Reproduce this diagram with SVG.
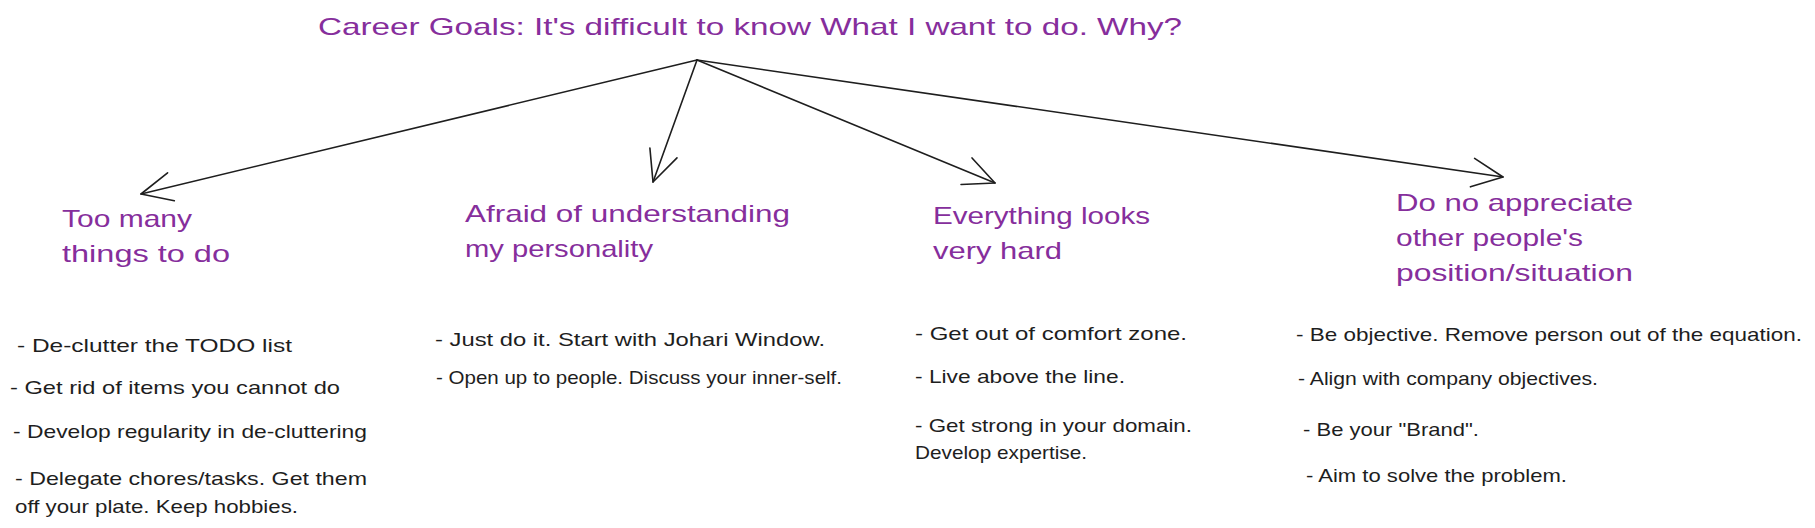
<svg xmlns="http://www.w3.org/2000/svg" width="1815" height="528" viewBox="0 0 1815 528">
  <style>
    .title { font-family: "Liberation Sans", Arial, sans-serif; font-size: 24px; fill: #862e9c; }
    .node { font-family: "Liberation Sans", Arial, sans-serif; font-size: 24px; fill: #862e9c; }
    .body { font-family: "Liberation Sans", Arial, sans-serif; font-size: 19px; fill: #1e1e1e; }
    .conn { fill: none; stroke: #1e1e1e; stroke-width: 1.6; stroke-linecap: round; marker-end: url(#ah); }
  </style>
  <defs>
    <marker id="ah" markerUnits="userSpaceOnUse" markerWidth="40" markerHeight="40" viewBox="-35 -20 40 40" refX="0" refY="0" orient="auto" overflow="visible">
      <path d="M -30.8,-14.4 L 0,0 L -30.8,14.4" fill="none" stroke="#1e1e1e" stroke-width="1.6" stroke-linecap="round" stroke-linejoin="round"/>
    </marker>
  </defs>
  <rect width="1815" height="528" fill="#ffffff"/>

  <g id="title">
    <text class="title" x="318" y="35" textLength="864" lengthAdjust="spacingAndGlyphs">Career Goals: It's difficult to know What I want to do. Why?</text>
  </g>

  <g id="connectors">
    <line class="conn" x1="697" y1="60" x2="141" y2="194"/>
    <line class="conn" x1="697" y1="60" x2="653" y2="182"/>
    <line class="conn" x1="697" y1="60" x2="995" y2="183"/>
    <line class="conn" x1="697" y1="60" x2="1503" y2="177"/>
  </g>

  <g id="node-too-many">
    <text class="node" x="62" y="227" textLength="130" lengthAdjust="spacingAndGlyphs">Too many</text>
    <text class="node" x="62" y="262" textLength="168" lengthAdjust="spacingAndGlyphs">things to do</text>
  </g>
  <g id="node-afraid">
    <text class="node" x="465" y="222" textLength="325" lengthAdjust="spacingAndGlyphs">Afraid of understanding</text>
    <text class="node" x="465" y="257" textLength="188" lengthAdjust="spacingAndGlyphs">my personality</text>
  </g>
  <g id="node-everything">
    <text class="node" x="933" y="224" textLength="217" lengthAdjust="spacingAndGlyphs">Everything looks</text>
    <text class="node" x="933" y="259" textLength="129" lengthAdjust="spacingAndGlyphs">very hard</text>
  </g>
  <g id="node-appreciate">
    <text class="node" x="1396" y="211" textLength="237" lengthAdjust="spacingAndGlyphs">Do no appreciate</text>
    <text class="node" x="1396" y="246" textLength="187" lengthAdjust="spacingAndGlyphs">other people's</text>
    <text class="node" x="1396" y="281" textLength="237" lengthAdjust="spacingAndGlyphs">position/situation</text>
  </g>

  <g id="notes-too-many">
    <text class="body" x="17" y="352" textLength="275" lengthAdjust="spacingAndGlyphs">- De-clutter the TODO list</text>
    <text class="body" x="10" y="394" textLength="330" lengthAdjust="spacingAndGlyphs">- Get rid of items you cannot do</text>
    <text class="body" x="13" y="438" textLength="354" lengthAdjust="spacingAndGlyphs">- Develop regularity in de-cluttering</text>
    <text class="body" x="15" y="485" textLength="352" lengthAdjust="spacingAndGlyphs">- Delegate chores/tasks. Get them</text>
    <text class="body" x="15" y="513" textLength="283" lengthAdjust="spacingAndGlyphs">off your plate. Keep hobbies.</text>
  </g>
  <g id="notes-afraid">
    <text class="body" x="435" y="346" textLength="390" lengthAdjust="spacingAndGlyphs">- Just do it. Start with Johari Window.</text>
    <text class="body" x="436" y="384" textLength="406" lengthAdjust="spacingAndGlyphs">- Open up to people. Discuss your inner-self.</text>
  </g>
  <g id="notes-everything">
    <text class="body" x="915" y="340" textLength="272" lengthAdjust="spacingAndGlyphs">- Get out of comfort zone.</text>
    <text class="body" x="915" y="383" textLength="210" lengthAdjust="spacingAndGlyphs">- Live above the line.</text>
    <text class="body" x="915" y="432" textLength="277" lengthAdjust="spacingAndGlyphs">- Get strong in your domain.</text>
    <text class="body" x="915" y="459" textLength="172" lengthAdjust="spacingAndGlyphs">Develop expertise.</text>
  </g>
  <g id="notes-appreciate">
    <text class="body" x="1296" y="341" textLength="506" lengthAdjust="spacingAndGlyphs">- Be objective. Remove person out of the equation.</text>
    <text class="body" x="1298" y="385" textLength="300" lengthAdjust="spacingAndGlyphs">- Align with company objectives.</text>
    <text class="body" x="1303" y="436" textLength="176" lengthAdjust="spacingAndGlyphs">- Be your "Brand".</text>
    <text class="body" x="1306" y="482" textLength="261" lengthAdjust="spacingAndGlyphs">- Aim to solve the problem.</text>
  </g>
</svg>
